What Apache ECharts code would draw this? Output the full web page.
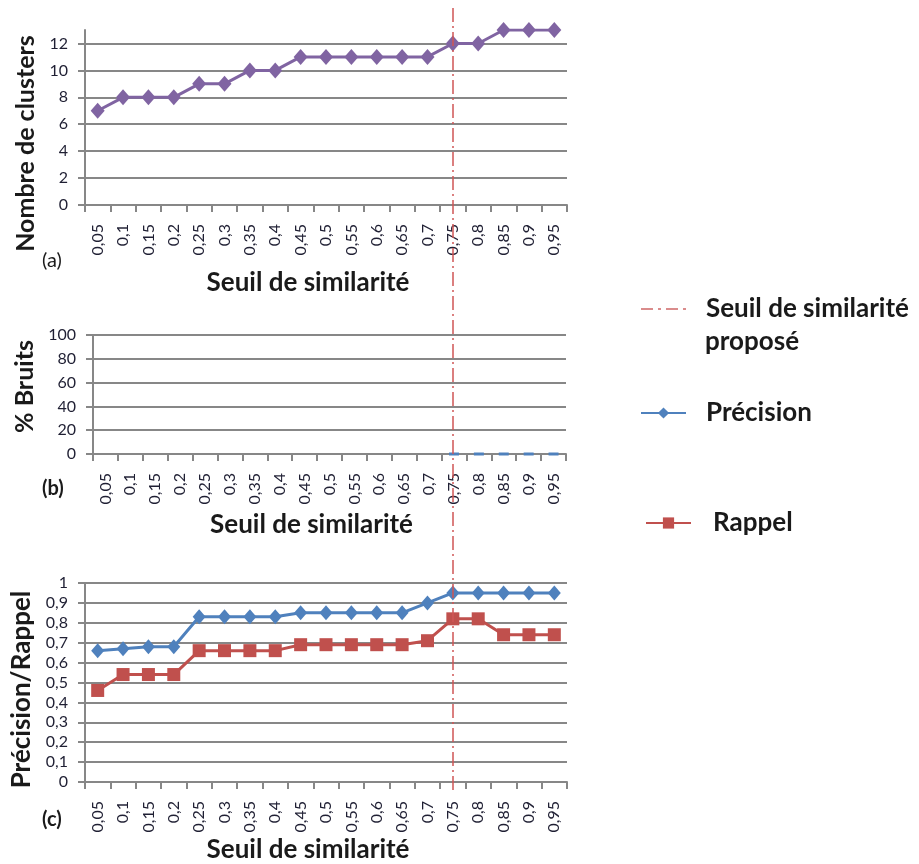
<!DOCTYPE html>
<html><head><meta charset="utf-8">
<script src="https://cdn.jsdelivr.net/npm/echarts@6/dist/echarts.min.js"></script>
<style>html,body{margin:0;padding:0;background:#fff}#c{width:919px;height:864px}</style>
</head><body><div id="c"></div>
<script>
const thresholds = ['0,05','0,1','0,15','0,2','0,25','0,3','0,35','0,4','0,45','0,5','0,55','0,6','0,65','0,7','0,75','0,8','0,85','0,9','0,95'];
const clusters = [7,8,8,8,9,9,10,10,11,11,11,11,11,11,12,12,13,13,13];
const bruits = [null,null,null,null,null,null,null,null,null,null,null,null,null,null,0,0,0,0,0];
const precision = [0.66,0.67,0.68,0.68,0.83,0.83,0.83,0.83,0.85,0.85,0.85,0.85,0.85,0.90,0.95,0.95,0.95,0.95,0.95];
const rappel = [0.46,0.54,0.54,0.54,0.66,0.66,0.66,0.66,0.69,0.69,0.69,0.69,0.69,0.71,0.82,0.82,0.74,0.74,0.74];
const proposedThreshold = '0,75';

const FONT = 'Lato';
const GRID = '#878787';
const LBL = '#1f1f33';
const TITLE = '#1a1a1a';
const comma = v => String(Math.round(v*100)/100).replace('.', ',');

function xAx(gridIndex, nameGap) {
  return {
    type: 'category', gridIndex, data: thresholds, boundaryGap: true,
    name: 'Seuil de similarité', nameLocation: 'middle', nameGap,
    nameTextStyle: {fontFamily: FONT, fontSize: 26, fontWeight: 'bold', color: TITLE, padding: [0, 36, 0, 0]},
    axisLine: {lineStyle: {color: GRID, width: 2}},
    axisTick: {show: true, interval: 0, length: 7, lineStyle: {color: GRID, width: 2}},
    axisLabel: {interval: 0, rotate: 90, fontFamily: FONT, fontSize: 16, color: LBL, margin: 19},
    splitLine: {show: false}
  };
}
function yAx(gridIndex, name, min, max, interval, nameGap, nameSize, namePad, extra) {
  return Object.assign({
    type: 'value', gridIndex, min, max, interval, name, nameLocation: 'middle', nameGap,
    nameTextStyle: {fontFamily: FONT, fontSize: nameSize, fontWeight: 'bold', color: TITLE, padding: namePad},
    axisLine: {show: true, lineStyle: {color: GRID, width: 2}},
    axisTick: {show: true, length: 7, lineStyle: {color: GRID, width: 2}},
    axisLabel: {fontFamily: FONT, fontSize: 16, color: LBL, margin: 17, formatter: comma},
    splitLine: {show: true, lineStyle: {color: GRID, width: 2}}
  }, extra || {});
}
const legendText = pad => ({fontFamily: FONT, fontSize: 26, fontWeight: 'bold', color: TITLE, padding: [0, 0, 0, pad]});

const chart = echarts.init(document.getElementById('c'), null, {renderer: 'canvas'});
chart.setOption({
  animation: false,
  textStyle: {fontFamily: FONT},
  grid: [
    {left: 85, right: 352, top: 30, bottom: 659},
    {left: 93, right: 353, top: 335, bottom: 410},
    {left: 85, right: 352, top: 583, bottom: 74},
    {left: 85, right: 352, top: 8, bottom: 74}
  ],
  xAxis: [
    xAx(0, 65), xAx(1, 58), xAx(2, 55),
    {type: 'category', gridIndex: 3, data: thresholds, boundaryGap: true, show: false}
  ],
  yAxis: [
    yAx(0, 'Nombre de clusters', 0, 13, 2, 42, 25, [0, 52, 0, 0], {
      axisLabel: {fontFamily: FONT, fontSize: 16, color: LBL, margin: 17, showMaxLabel: false},
      splitLine: {show: true, showMaxLine: false, lineStyle: {color: GRID, width: 2}}
    }),
    yAx(1, '% Bruits', 0, 100, 20, 50, 25, [0, 0, 0, 16]),
    yAx(2, 'Précision/Rappel', 0, 1, 0.1, 42, 26, [0, 14, 0, 0]),
    {type: 'value', gridIndex: 3, min: 0, max: 1, show: false}
  ],
  legend: [
    {data: ['Seuil de similarité proposé'], left: 635, top: 291, itemWidth: 45, itemHeight: 14, selectedMode: false,
     itemStyle: {opacity: 0},
     formatter: () => 'Seuil de similarité', textStyle: legendText(15)},
    {data: ['Précision'], left: 635, top: 395, itemWidth: 45, itemHeight: 14, selectedMode: false,
     textStyle: legendText(15)},
    {data: ['Rappel'], left: 640, top: 505, itemWidth: 45, itemHeight: 14, selectedMode: false,
     textStyle: legendText(17)}
  ],
  graphic: [
    {type: 'text', left: 705, top: 329, style: {text: 'proposé', font: 'bold 26px Lato', fill: TITLE}},
    {type: 'text', left: 42, top: 251, style: {text: '(a)', font: '20px Lato', fill: TITLE}},
    {type: 'text', left: 42, top: 479, style: {text: '(b)', font: 'bold 20px Lato', fill: TITLE}},
    {type: 'text', left: 42, top: 810, style: {text: '(c)', font: 'bold 20px Lato', fill: TITLE}}
  ],
  series: [
    {name: 'Nombre de clusters', type: 'line', xAxisIndex: 0, yAxisIndex: 0, data: clusters,
     symbol: 'diamond', symbolSize: [14, 16], lineStyle: {color: '#8064A2', width: 3},
     itemStyle: {color: '#8064A2'}},
    {name: '% Bruits', type: 'line', xAxisIndex: 1, yAxisIndex: 1, data: bruits,
     symbol: 'rect', symbolSize: [10, 3], lineStyle: {width: 0, opacity: 0},
     itemStyle: {color: '#4F81BD'}},
    {name: 'Précision', type: 'line', xAxisIndex: 2, yAxisIndex: 2, data: precision,
     symbol: 'diamond', symbolSize: [13, 15], lineStyle: {color: '#4F81BD', width: 3},
     itemStyle: {color: '#4F81BD'}},
    {name: 'Rappel', type: 'line', xAxisIndex: 2, yAxisIndex: 2, data: rappel,
     symbol: 'rect', symbolSize: 13, lineStyle: {color: '#C0504D', width: 3},
     itemStyle: {color: '#C0504D'}},
    {name: 'Seuil de similarité proposé', type: 'line', xAxisIndex: 3, yAxisIndex: 3,
     data: thresholds.map(() => null), symbol: 'none',
     itemStyle: {color: '#DA8C8C'},
     lineStyle: {color: '#DA8C8C', width: 2, type: [12, 5, 3, 5]},
     markLine: {silent: true, symbol: 'none', label: {show: false},
       lineStyle: {color: '#D05656', width: 1.5, type: [14, 4, 2, 4]},
       data: [{xAxis: proposedThreshold}]}}
  ]
});
</script></body></html>
